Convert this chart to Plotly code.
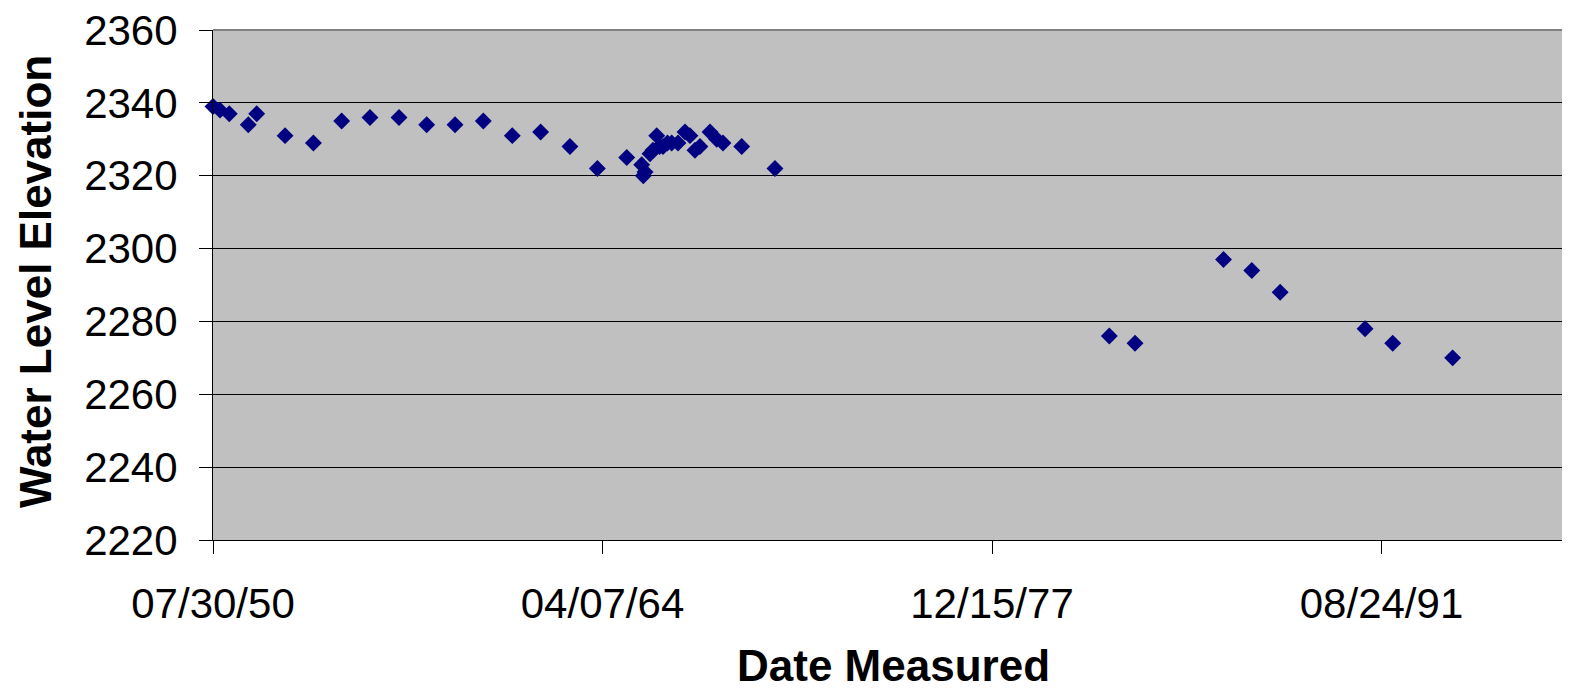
import pandas as pd
import plotly.graph_objects as go

# ---- data ----
dates_measured = [
    "1950-07-30", "1950-10-28", "1951-02-24", "1951-10-26", "1952-02-11",
    "1953-02-09", "1954-02-08", "1955-02-06", "1956-02-04", "1957-02-11",
    "1958-02-01", "1959-01-31", "1960-01-29", "1961-02-04", "1962-02-03",
    "1963-02-14", "1964-02-01",
    "1965-02-12", "1965-08-23", "1965-09-13", "1965-10-05", "1965-12-08",
    "1966-01-15", "1966-03-04", "1966-04-10", "1966-05-24", "1966-07-20",
    "1966-09-12", "1966-12-02", "1967-03-02", "1967-05-05", "1967-07-08",
    "1967-09-10", "1968-01-17", "1968-04-12", "1968-07-02", "1969-02-27",
    "1970-04-30",
    "1982-01-29", "1982-12-25", "1986-02-03", "1987-02-01", "1988-01-31",
    "1991-01-25", "1992-01-15", "1994-02-22", "1998-01-18", "1998-04-05",
]
water_level = [
    2339, 2338, 2337, 2334, 2337,
    2331, 2329, 2335, 2336, 2336,
    2334, 2334, 2335, 2331, 2332,
    2328, 2322,
    2325, 2323, 2320, 2321, 2326,
    2327, 2331, 2328, 2328, 2329,
    2329, 2329, 2332, 2331, 2327,
    2328, 2332, 2330, 2329, 2328,
    2322,
    2276, 2274, 2297, 2294, 2288,
    2278, 2274, 2270, 2258, 2228,
]

x_start = pd.Timestamp("1950-07-30")
x_end = x_start + pd.Timedelta(days=17317)
tick_step_days = 5000

FONT = "Liberation Sans, Arial, sans-serif"

fig = go.Figure()
fig.add_trace(go.Scatter(
    x=pd.to_datetime(dates_measured),
    y=water_level,
    mode="markers",
    marker=dict(symbol="diamond", size=13, color="#000080",
                line=dict(width=0)),
    cliponaxis=False,
    showlegend=False,
))

fig.update_layout(
    width=1554, height=684,
    margin=dict(l=205, r=0, t=22, b=152),
    paper_bgcolor="white",
    plot_bgcolor="#C0C0C0",
    font=dict(family=FONT, color="black"),
    xaxis=dict(
        type="date",
        range=[x_start, x_end],
        tick0=x_start,
        dtick=tick_step_days * 86400000,
        tickformat="%m/%d/%y",
        ticks="outside", ticklen=13, tickwidth=1, tickcolor="black",
        showline=True, linecolor="black", linewidth=1,
        showgrid=False, zeroline=False,
        tickfont=dict(family=FONT, size=42, color="black"),
        ticklabelstandoff=14,
        ticklabeloverflow="allow",
    ),
    yaxis=dict(
        range=[2220, 2360],
        dtick=20,
        ticks="outside", ticklen=13, tickwidth=1, tickcolor="black",
        showline=True, linecolor="black", linewidth=1,
        showgrid=True, gridcolor="black", gridwidth=1,
        zeroline=False,
        tickfont=dict(family=FONT, size=42, color="black"),
        ticklabelstandoff=13,
        ticklabeloverflow="allow",
    ),
    shapes=[dict(type="line", xref="paper", yref="paper",
                 x0=0, x1=1, y0=1, y1=1,
                 line=dict(color="#808080", width=2))],
    annotations=[
        dict(text="<b>Water Level Elevation</b>", textangle=-90,
             xref="paper", yref="paper",
             x=(35 - 213) / 1349, y=(540 - 282) / 510,
             xanchor="center", yanchor="middle", showarrow=False,
             font=dict(family=FONT, size=44, color="black")),
        dict(text="<b>Date Measured</b>",
             xref="paper", yref="paper",
             x=(893 - 213) / 1349, y=(540 - 665) / 510,
             xanchor="center", yanchor="middle", showarrow=False,
             font=dict(family=FONT, size=44, color="black")),
    ],
)

fig.write_html("out.html")
